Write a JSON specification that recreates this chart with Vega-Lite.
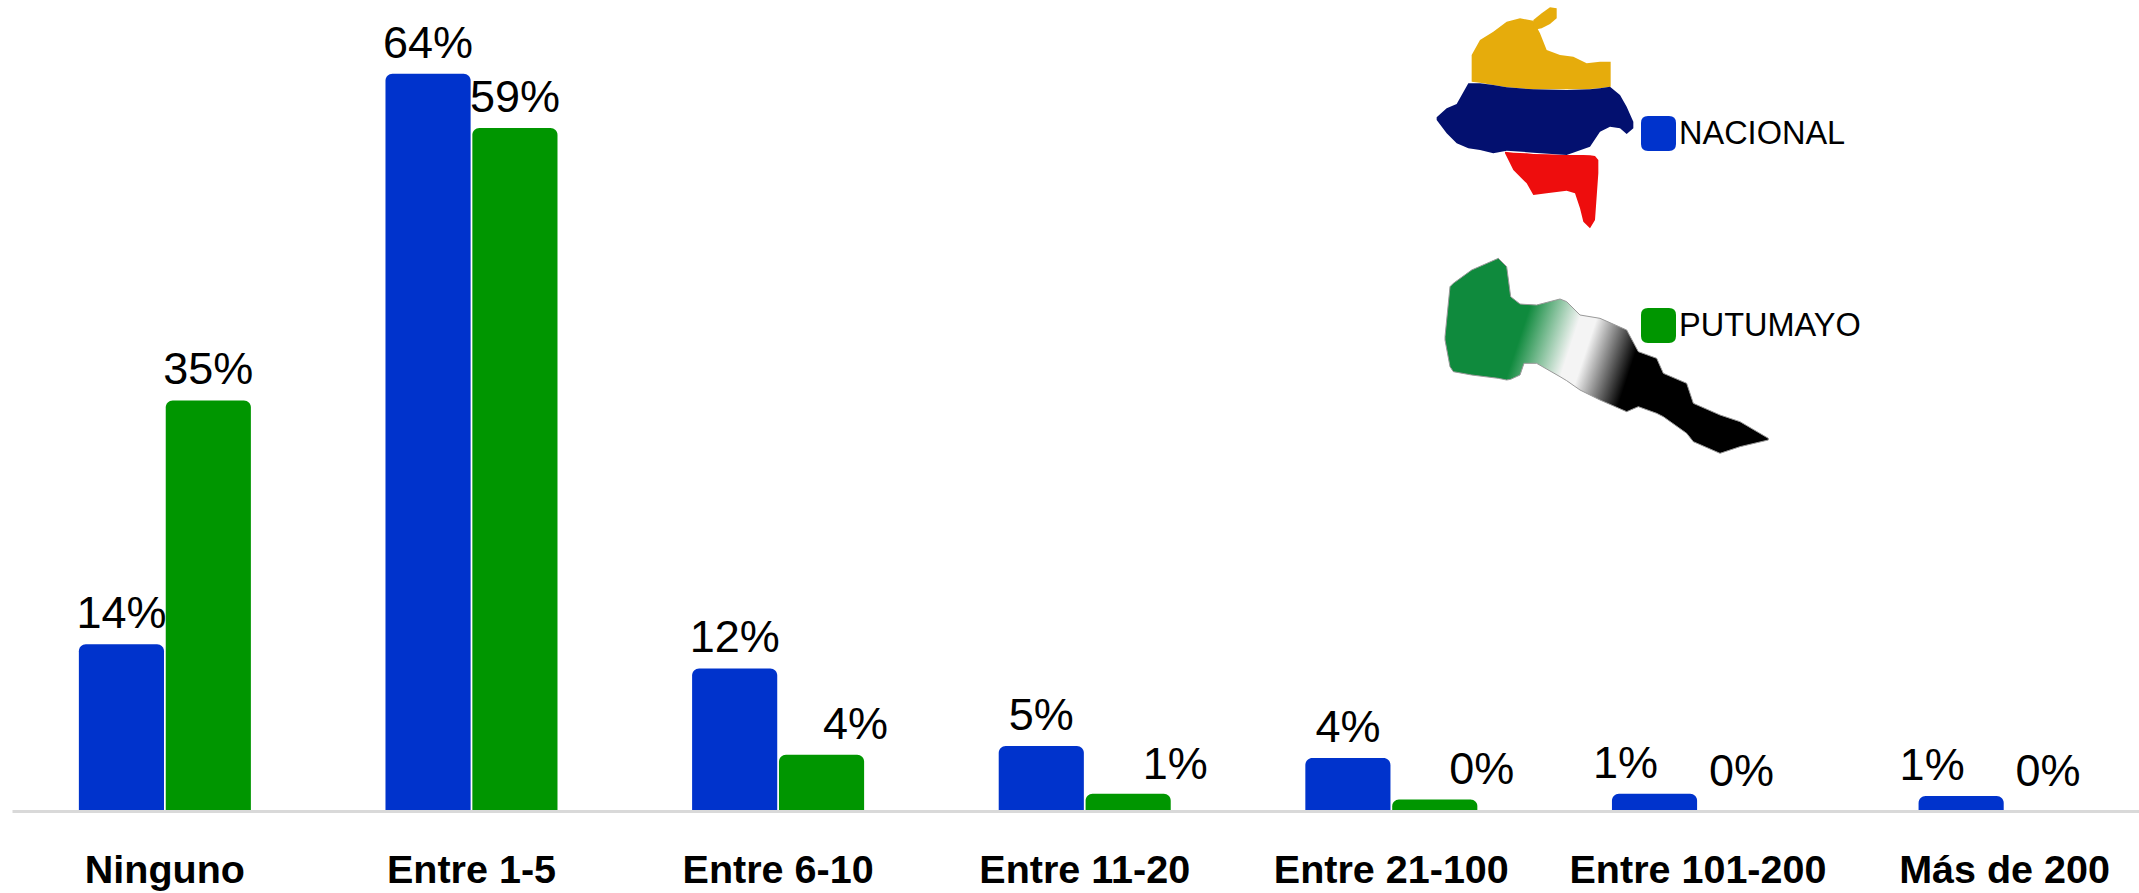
{"$schema":"https://vega.github.io/schema/vega-lite/v6.json","autosize":"none","padding":{"left":12,"top":0,"right":0,"bottom":82},"width":2127,"height":811,"background":"white","config":{"view":{"stroke":null},"font":"Liberation Sans"},
"datasets":{
"bars":[
{"category":"Ninguno","series":"NACIONAL","value":14.5,"label":"14%"},{"category":"Ninguno","series":"PUTUMAYO","value":35.7,"label":"35%"},
{"category":"Entre 1-5","series":"NACIONAL","value":64.1,"label":"64%"},{"category":"Entre 1-5","series":"PUTUMAYO","value":59.4,"label":"59%"},
{"category":"Entre 6-10","series":"NACIONAL","value":12.4,"label":"12%"},{"category":"Entre 6-10","series":"PUTUMAYO","value":4.9,"label":"4%"},
{"category":"Entre 11-20","series":"NACIONAL","value":5.65,"label":"5%"},{"category":"Entre 11-20","series":"PUTUMAYO","value":1.5,"label":"1%"},
{"category":"Entre 21-100","series":"NACIONAL","value":4.6,"label":"4%"},{"category":"Entre 21-100","series":"PUTUMAYO","value":1.0,"label":"0%"},
{"category":"Entre 101-200","series":"NACIONAL","value":1.5,"label":"1%"},{"category":"Entre 101-200","series":"PUTUMAYO","value":0,"label":"0%"},
{"category":"Más de 200","series":"NACIONAL","value":1.3,"label":"1%"},{"category":"Más de 200","series":"PUTUMAYO","value":0,"label":"0%"}],
"colombia":[
{"part":"y","mx":215,"top":165,"bot":245},{"part":"y","mx":240,"top":120,"bot":248},{"part":"y","mx":280,"top":95,"bot":255},{"part":"y","mx":320,"top":65,"bot":262},{"part":"y","mx":360,"top":55,"bot":265},{"part":"y","mx":400,"top":62,"bot":268},{"part":"y","mx":420,"top":100,"bot":268},{"part":"y","mx":440,"top":150,"bot":268},{"part":"y","mx":480,"top":165,"bot":268},{"part":"y","mx":520,"top":170,"bot":268},{"part":"y","mx":560,"top":190,"bot":268},{"part":"y","mx":600,"top":185,"bot":265},{"part":"y","mx":632,"top":185,"bot":260},
{"part":"p","mx":400,"top":60,"bot":90},{"part":"p","mx":425,"top":40,"bot":85},{"part":"p","mx":450,"top":22,"bot":72},{"part":"p","mx":470,"top":25,"bot":55},
{"part":"n","mx":110,"top":352,"bot":360},{"part":"n","mx":140,"top":325,"bot":400},{"part":"n","mx":170,"top":312,"bot":430},{"part":"n","mx":205,"top":250,"bot":445},{"part":"n","mx":240,"top":250,"bot":450},{"part":"n","mx":280,"top":255,"bot":460},{"part":"n","mx":320,"top":262,"bot":452},{"part":"n","mx":400,"top":268,"bot":458},{"part":"n","mx":500,"top":270,"bot":465},{"part":"n","mx":570,"top":268,"bot":440},{"part":"n","mx":600,"top":265,"bot":395},{"part":"n","mx":630,"top":260,"bot":380},{"part":"n","mx":660,"top":285,"bot":385},{"part":"n","mx":680,"top":320,"bot":402},{"part":"n","mx":700,"top":365,"bot":385},
{"part":"r","mx":315,"top":455,"bot":460},{"part":"r","mx":340,"top":458,"bot":510},{"part":"r","mx":380,"top":460,"bot":550},{"part":"r","mx":400,"top":462,"bot":585},{"part":"r","mx":440,"top":463,"bot":580},{"part":"r","mx":500,"top":465,"bot":572},{"part":"r","mx":525,"top":465,"bot":580},{"part":"r","mx":540,"top":465,"bot":625},{"part":"r","mx":550,"top":465,"bot":665},{"part":"r","mx":570,"top":466,"bot":685},{"part":"r","mx":585,"top":468,"bot":660},{"part":"r","mx":595,"top":480,"bot":520}],
"putumayo":[
{"mx":135,"top":1010,"bot":1020},{"mx":150,"top":860,"bot":1100},{"mx":160,"top":850,"bot":1115},{"mx":215,"top":810,"bot":1125},{"mx":295,"top":775,"bot":1135},{"mx":320,"top":800,"bot":1140},{"mx":332,"top":890,"bot":1138},{"mx":360,"top":912,"bot":1125},{"mx":372,"top":913,"bot":1090},{"mx":410,"top":915,"bot":1090},{"mx":480,"top":897,"bot":1130},{"mx":500,"top":905,"bot":1142},{"mx":540,"top":945,"bot":1170},{"mx":600,"top":955,"bot":1200},{"mx":680,"top":990,"bot":1235},{"mx":715,"top":1055,"bot":1220},{"mx":770,"top":1075,"bot":1240},{"mx":790,"top":1120,"bot":1250},{"mx":860,"top":1150,"bot":1300},{"mx":880,"top":1210,"bot":1325},{"mx":960,"top":1245,"bot":1360},{"mx":1020,"top":1265,"bot":1340},{"mx":1105,"top":1315,"bot":1320}]
},
"layer":[
{"layer":[
{"data":{"name":"colombia"},"transform":[{"filter":"datum.part==='y'||datum.part==='p'"}],"mark":{"type":"area","color":"#e6ac0c"},"encoding":{"detail":{"field":"part"},"x":{"field":"mx","type":"quantitative","scale":{"domain":[-4164,2217],"nice":false,"zero":false},"axis":null},"y":{"field":"top","type":"quantitative","scale":{"domain":[2433,0],"nice":false,"zero":false},"axis":null},"y2":{"field":"bot"}}},
{"data":{"name":"colombia"},"transform":[{"filter":"datum.part==='r'"}],"mark":{"type":"area","color":"#ee0d0d"},"encoding":{"x":{"field":"mx","type":"quantitative"},"y":{"field":"top","type":"quantitative"},"y2":{"field":"bot"}}},
{"data":{"name":"colombia"},"transform":[{"filter":"datum.part==='n'"}],"mark":{"type":"area","color":"#03106f"},"encoding":{"x":{"field":"mx","type":"quantitative"},"y":{"field":"top","type":"quantitative"},"y2":{"field":"bot"}}},
{"data":{"name":"putumayo"},"mark":{"type":"area","stroke":"#999999","strokeWidth":1,"color":{"gradient":"linear","x1":0,"y1":0,"x2":1,"y2":0.2,"stops":[{"offset":0,"color":"#0f8a3d"},{"offset":0.3,"color":"#0f8a3d"},{"offset":0.46,"color":"#f4f4f4"},{"offset":0.51,"color":"#f4f4f4"},{"offset":0.66,"color":"#000000"},{"offset":1,"color":"#000000"}]}},"encoding":{"x":{"field":"mx","type":"quantitative"},"y":{"field":"top","type":"quantitative"},"y2":{"field":"bot"}}}
]},
{"data":{"name":"bars"},
"encoding":{
"x":{"field":"category","type":"nominal","sort":null,"scale":{"paddingInner":0.439,"paddingOuter":0.188,"align":0.58},"axis":{"orient":"bottom","title":null,"labelAngle":0,"labelFont":"Liberation Sans","labelFontWeight":"bold","labelFontSize":39.5,"labelColor":"#000000","labelPadding":40,"labelOverlap":false,"labelBound":false,"labelFlush":false,"labelLimit":0,"ticks":false,"grid":false,"domainColor":"#d9d9d9","domainWidth":3,"zindex":1}},
"xOffset":{"field":"series","type":"nominal","sort":null,"scale":{"paddingInner":0.02}},
"y":{"field":"value","type":"quantitative","scale":{"domain":[0,70.52]},"axis":null}},
"layer":[
{"transform":[{"filter":"datum.value>0"}],"mark":{"type":"bar","cornerRadiusTopLeft":7,"cornerRadiusTopRight":7,"clip":false},"encoding":{"y2":{"datum":-0.17},"color":{"field":"series","type":"nominal","scale":{"domain":["NACIONAL","PUTUMAYO"],"range":["#0033cc","#009600"]},"legend":{"title":null,"orient":"none","legendX":1629,"legendY":116,"symbolType":"M-0.6,-1H0.6Q1,-1 1,-0.6V0.6Q1,1 0.6,1H-0.6Q-1,1 -1,0.6V-0.6Q-1,-1 -0.6,-1Z","symbolSize":1225,"symbolStrokeWidth":0,"labelFont":"Liberation Sans","labelFontSize":32.5,"labelColor":"#000000","labelOffset":3,"rowPadding":157,"labelLimit":0}}}},
{"transform":[{"filter":"!(datum.series==='PUTUMAYO'&&datum.value<5)&&!(datum.series==='NACIONAL'&&datum.value<2)"}],"mark":{"type":"text","fontSize":45,"dy":-16,"baseline":"alphabetic","color":"#000000"},"encoding":{"text":{"field":"label"}}},
{"transform":[{"filter":"datum.series==='PUTUMAYO'&&datum.value>=4"}, {"filter":"datum.value<5"}],"mark":{"type":"text","fontSize":45,"dy":-16,"dx":34,"baseline":"alphabetic","color":"#000000"},"encoding":{"text":{"field":"label"}}},
{"transform":[{"filter":"datum.series==='PUTUMAYO'&&datum.value>0&&datum.value<4"}],"mark":{"type":"text","fontSize":45,"dy":-15,"dx":47,"baseline":"alphabetic","color":"#000000"},"encoding":{"text":{"field":"label"}}},
{"transform":[{"filter":"datum.series==='PUTUMAYO'&&datum.value===0"}],"mark":{"type":"text","fontSize":45,"dy":-25,"baseline":"alphabetic","color":"#000000"},"encoding":{"text":{"field":"label"}}},
{"transform":[{"filter":"datum.series==='NACIONAL'&&datum.value<2"}],"mark":{"type":"text","fontSize":45,"dy":-16,"dx":-29,"baseline":"alphabetic","color":"#000000"},"encoding":{"text":{"field":"label"}}}
]}
],
"resolve":{"scale":{"x":"independent","y":"independent"}}}
